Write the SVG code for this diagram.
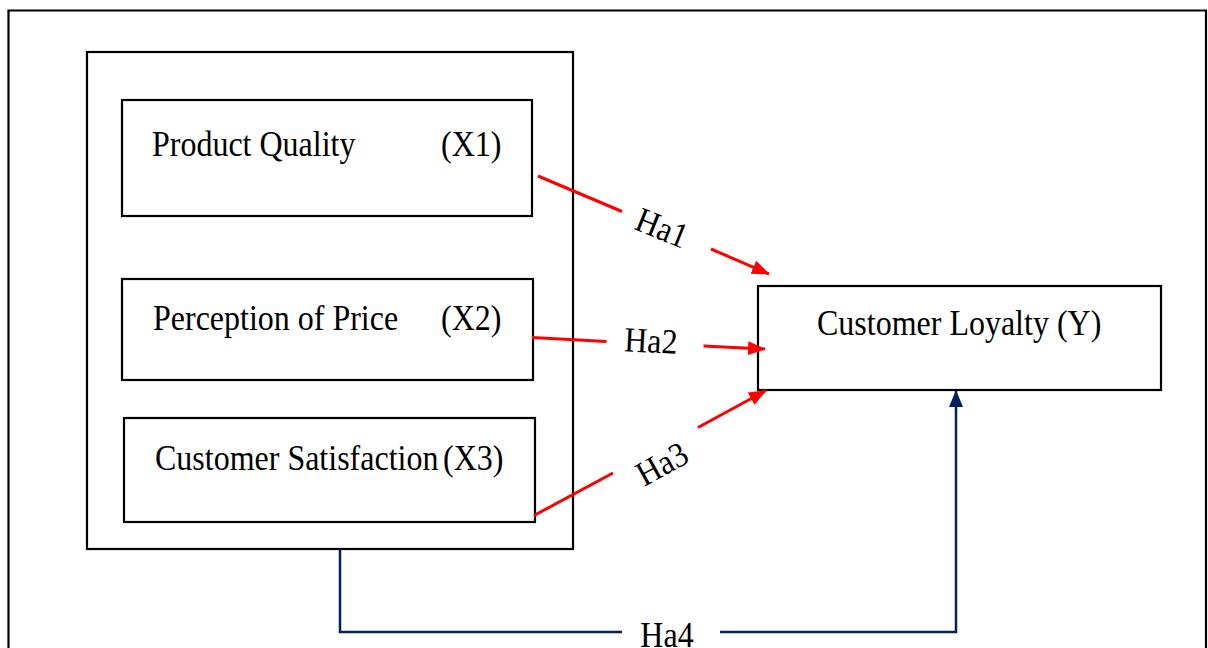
<svg xmlns="http://www.w3.org/2000/svg" width="1208" height="648" viewBox="0 0 1208 648">
<style>
.box{fill:#fff;stroke:#000;stroke-width:2.2}
.frame{fill:none;stroke:#000;stroke-width:2.2}
.t{font-family:"Liberation Serif","Times New Roman",serif;font-size:32px;fill:#000}
.red{stroke:#ff0000;stroke-width:3;fill:none}
.navy{stroke:#002060;stroke-width:2.5;fill:none}
</style>
<defs>
<marker id="ar" markerUnits="userSpaceOnUse" markerWidth="20" markerHeight="16" refX="17" refY="7" orient="auto" viewBox="0 0 20 14">
<path d="M0,0 L18,7 L0,14 Z" fill="#ff0000"/>
</marker>
<marker id="an" markerUnits="userSpaceOnUse" markerWidth="18" markerHeight="16" refX="16" refY="7" orient="auto" viewBox="0 0 18 14">
<path d="M0,0 L17,7 L0,14 Z" fill="#002060"/>
</marker>
</defs>
<rect width="1208" height="648" fill="#fff"/>
<path class="frame" d="M8.5,660 L8.5,10.5 L1206,10.5 L1206,660"/>
<g id="group-X">
<rect class="box" x="87" y="52" width="486" height="497"/>
</g>
<g id="node-X1">
<rect class="box" x="122" y="100" width="410" height="116"/>
<text class="t" transform="translate(152,156) scale(1,1.1)">Product Quality</text>
<text class="t" transform="translate(441,156) scale(1,1.1)">(X1)</text>
</g>
<g id="node-X2">
<rect class="box" x="122" y="279" width="411" height="101"/>
<text class="t" transform="translate(153,330) scale(1,1.1)">Perception of Price</text>
<text class="t" transform="translate(441,330) scale(1,1.1)">(X2)</text>
</g>
<g id="node-X3">
<rect class="box" x="124" y="418" width="411" height="104"/>
<text class="t" transform="translate(155,470) scale(1,1.1)">Customer Satisfaction</text>
<text class="t" transform="translate(443,470) scale(1,1.1)">(X3)</text>
</g>
<g id="node-Y">
<rect class="box" x="758" y="286" width="403" height="104"/>
<text class="t" transform="translate(817,335) scale(1,1.1)">Customer Loyalty (Y)</text>
</g>
<g id="connectors">
<line class="red" x1="538" y1="176" x2="622" y2="211.5"/>
<line class="red" x1="711" y1="249" x2="769" y2="274" marker-end="url(#ar)"/>
<text class="t" text-anchor="middle" transform="translate(662,228) rotate(22) scale(1,1.1)" y="10.5">Ha1</text>
<line class="red" x1="532" y1="337.5" x2="606.5" y2="341.5"/>
<line class="red" x1="703.5" y1="346" x2="765" y2="349" marker-end="url(#ar)"/>
<text class="t" text-anchor="middle" transform="translate(651,341) rotate(3) scale(1,1.1)" y="10.5">Ha2</text>
<line class="red" x1="534" y1="515.5" x2="613" y2="473"/>
<line class="red" x1="698" y1="427.5" x2="766" y2="390.5" marker-end="url(#ar)"/>
<text class="t" text-anchor="middle" transform="translate(662,464) rotate(-29) scale(1,1.1)" y="10.5">Ha3</text>
<path class="navy" d="M340,549 L340,632 L622,632"/>
<path class="navy" d="M720,632 L956,632 L956,391" marker-end="url(#an)"/>
<text class="t" text-anchor="middle" transform="translate(667,647) scale(1,1.1)">Ha4</text>
</g>
</svg>
